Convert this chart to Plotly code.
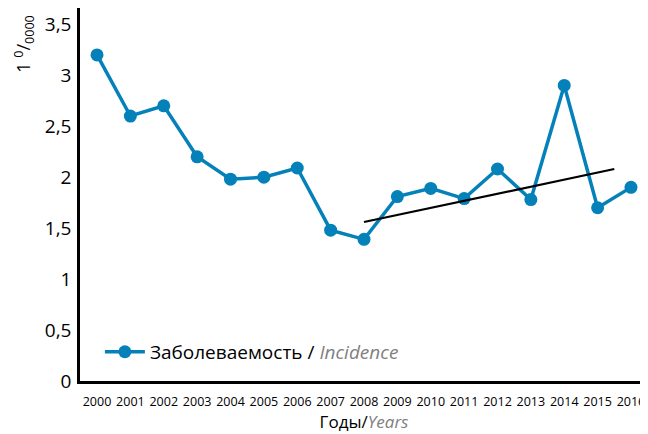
import plotly.graph_objects as go

years = list(range(2000, 2017))
incidence = [3.2, 2.6, 2.7, 2.2, 1.98, 2.0, 2.09, 1.48, 1.39, 1.81, 1.89, 1.79, 2.08, 1.78, 2.9, 1.70, 1.9]
trend_x = [2008, 2015.5]
trend_y = [1.56, 2.08]
y_ticks = [0, 0.5, 1, 1.5, 2, 2.5, 3, 3.5]
y_tick_labels = ["0", "0,5", "1", "1,5", "2", "2,5", "3", "3,5"]

blue = "#0581BA"
font_family = "Open Sans, Noto Sans, sans-serif"

fig = go.Figure()
fig.add_trace(go.Scatter(
    x=years, y=incidence, mode="lines+markers",
    name="Заболеваемость / <i><span style='color:#808080'>Incidence</span></i>",
    line=dict(color=blue, width=3.5),
    marker=dict(color=blue, size=13),
))
fig.add_trace(go.Scatter(
    x=trend_x, y=trend_y, mode="lines", showlegend=False,
    line=dict(color="black", width=2.2),
))

fig.update_layout(
    width=640, height=426,
    margin=dict(l=72, r=0, t=0, b=53),
    plot_bgcolor="white", paper_bgcolor="white",
    font=dict(family=font_family, color="black"),
    separators=", ",
    xaxis=dict(
        range=[1999.49, 2016.51],
        tickmode="array", tickvals=years, ticktext=[str(y) for y in years],
        tickfont=dict(size=12.5), tickangle=0,
        showline=True, linecolor="black", linewidth=2.5,
        showgrid=False, zeroline=False,
        ticks="outside", ticklen=7, tickcolor="rgba(0,0,0,0)",
        title=dict(text="Годы/<i><span style='color:#808080'>Years</span></i>",
                   font=dict(size=17), standoff=5),
    ),
    yaxis=dict(
        range=[0, 3.66],
        tickmode="array", tickvals=y_ticks, ticktext=y_tick_labels,
        tickfont=dict(size=19),
        showline=True, linecolor="black", linewidth=2.5,
        showgrid=False, zeroline=False,
        ticks="outside", ticklen=2, tickcolor="rgba(0,0,0,0)",
    ),
    legend=dict(
        x=0.035, y=0.078, xanchor="left", yanchor="middle",
        font=dict(size=19), bgcolor="rgba(0,0,0,0)", itemwidth=40,
    ),
    annotations=[dict(
        text="1 <sup>0</sup>/<sub>0000</sub>",
        xref="paper", yref="paper", x=-0.098, y=0.905,
        xanchor="center", yanchor="middle", textangle=-90,
        showarrow=False, font=dict(size=18),
    )],
)

fig.write_html("out.html")
